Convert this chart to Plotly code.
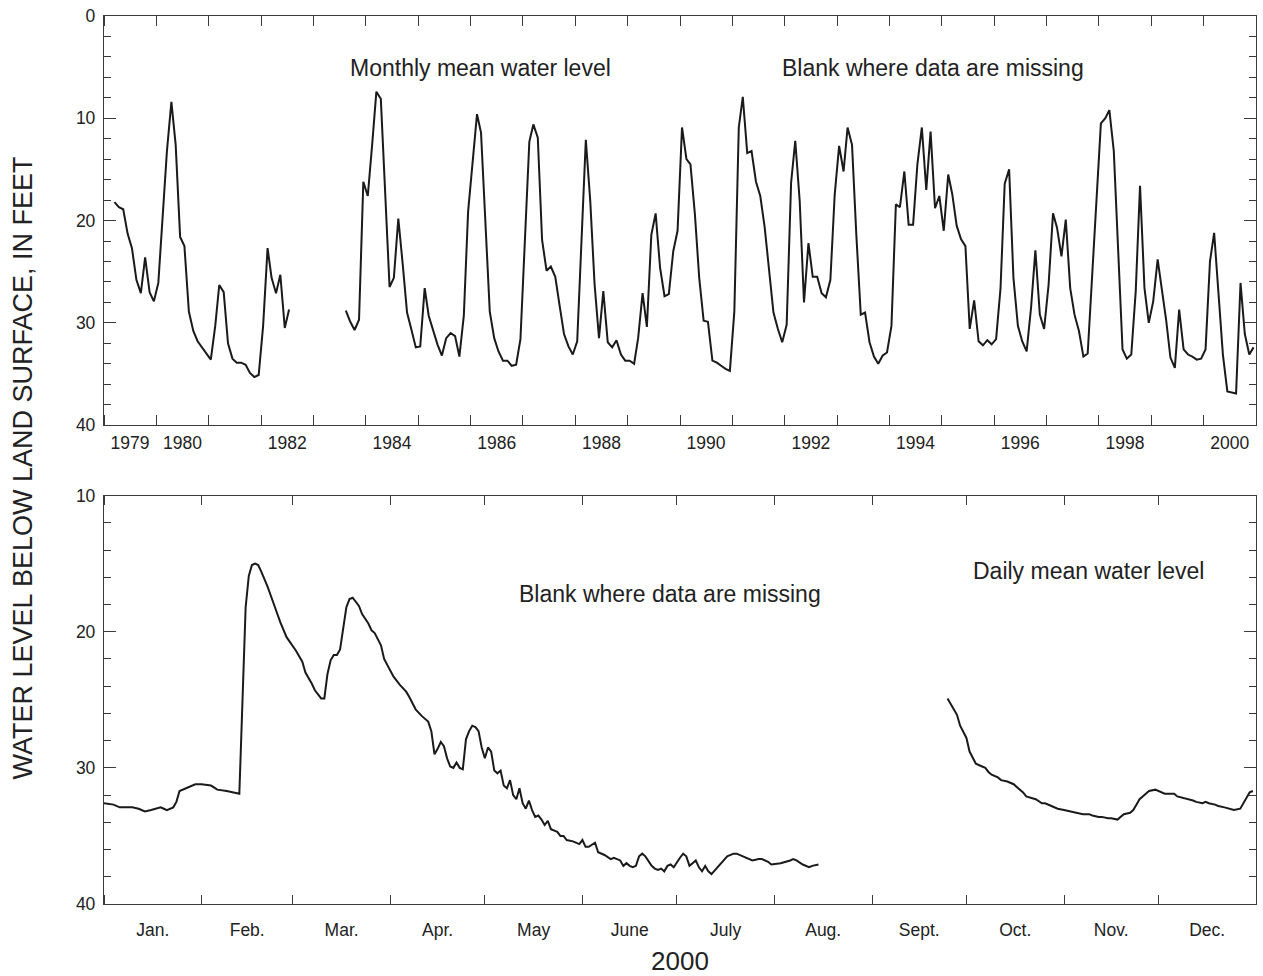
import pandas as pd
import plotly.graph_objects as go

# ---------------- data ----------------
# Monthly mean water level, feet below land surface, March 1979 - December 2000 (None = missing)
monthly_level = [
    18.2, 18.7, 18.9, 21.3, 22.7, 25.8, 27.1, 23.6, 27.0, 27.9,            # 1979 Mar-Dec
    26.1, 19.4, 13.2, 8.4, 12.6, 21.6, 22.5, 28.9, 30.8, 31.8, 32.4, 33.1,  # 1980
    33.6, 30.3, 26.3, 27.0, 32.0, 33.5, 33.9, 33.9, 34.1, 34.9, 35.3, 35.1,  # 1981
    30.3, 22.7, 25.6, 27.1, 25.3, 30.5, 28.7, None, None, None, None, None,  # 1982
    None, None, None, None, None, None, None, 28.8, 29.9, 30.7, 29.7, 16.2,  # 1983
    17.6, 12.5, 7.4, 8.1, 17.3, 26.5, 25.6, 19.8, 24.3, 29.0, 30.7, 32.4,    # 1984
    32.3, 26.6, 29.3, 30.8, 32.1, 33.2, 31.5, 31.0, 31.3, 33.3, 29.3, 19.1,  # 1985
    14.5, 9.6, 11.4, 20.3, 28.9, 31.5, 32.8, 33.7, 33.7, 34.2, 34.1, 31.6,   # 1986
    22.0, 12.3, 10.6, 11.9, 21.9, 24.9, 24.5, 25.5, 28.4, 31.1, 32.3, 33.1,  # 1987
    31.8, 22.0, 12.1, 18.1, 26.2, 31.5, 26.9, 31.9, 32.4, 31.7, 33.1, 33.7,  # 1988
    33.7, 34.0, 31.5, 27.1, 30.4, 21.4, 19.3, 24.6, 27.4, 27.2, 23.0, 21.0,  # 1989
    10.9, 14.0, 14.5, 19.4, 25.6, 29.8, 29.9, 33.7, 33.9, 34.2, 34.5, 34.7,  # 1990
    28.9, 10.9, 7.9, 13.4, 13.2, 16.2, 17.6, 20.7, 24.9, 29.0, 30.6, 31.9,   # 1991
    30.2, 16.3, 12.2, 18.1, 28.0, 22.2, 25.5, 25.5, 27.1, 27.5, 25.8, 17.5,  # 1992
    12.7, 15.2, 10.9, 12.6, 21.4, 29.2, 29.0, 31.9, 33.3, 34.0, 33.2, 32.9,  # 1993
    30.3, 18.4, 18.7, 15.2, 20.4, 20.4, 14.5, 10.9, 17.0, 11.3, 18.8, 17.6,  # 1994
    21.0, 15.5, 17.4, 20.5, 21.8, 22.5, 30.6, 27.8, 31.8, 32.2, 31.7, 32.1,  # 1995
    31.6, 26.6, 16.4, 15.0, 25.6, 30.3, 31.8, 32.8, 28.5, 22.9, 29.2, 30.6,  # 1996
    26.3, 19.3, 20.7, 23.5, 19.9, 26.6, 29.2, 30.8, 33.3, 33.0, 25.4, 18.0,  # 1997
    10.5, 10.0, 9.2, 13.2, 23.3, 32.6, 33.5, 33.1, 26.9, 16.6, 26.6, 30.0,   # 1998
    27.9, 23.8, 26.6, 29.7, 33.4, 34.4, 28.7, 32.6, 33.1, 33.3, 33.6, 33.5,  # 1999
    32.6, 24.0, 21.2, 26.9, 33.1, 36.7, 36.8, 36.9, 26.1, 31.1, 33.1, 32.4,  # 2000
]

# Daily mean water level in 2000: day offset from Jan 1, 2000 and level (None = missing)
daily_day = [
    0, 3, 5, 9, 11, 13, 15, 18, 19, 20, 22, 23, 24, 27, 29, 31, 33, 34, 36, 39,
    43, 45, 46, 47, 48, 49, 50, 52, 54, 56, 58, 61, 63, 64, 66, 67, 69, 70, 71,
    72, 73, 74, 75, 76, 77, 78, 79, 81, 82, 84, 85, 86, 88, 89, 91, 92, 94, 96,
    97, 99, 101, 103, 104, 105, 106, 107, 108, 109, 110, 111, 112, 113, 114,
    115, 116, 117, 118, 119, 120, 121, 122, 123, 124, 125, 126, 127, 128, 129,
    130, 131, 132, 133, 134, 135, 136, 137, 138, 139, 140, 141, 142, 144, 145,
    146, 147, 149, 151, 152, 153, 154, 156, 157, 159, 161, 162, 164, 165, 166,
    167, 168, 169, 170, 171, 172, 174, 175, 176, 177, 178, 179, 180, 181, 183,
    184, 185, 186, 187, 188, 189, 190, 191, 192, 193, 195, 197, 198, 200, 201,
    203, 205, 206, 208, 209, 211, 212, 215, 217, 218, 219, 220, 222, 224, 225,
    227, 228,
    268, 269, 271, 272, 274, 275, 276, 277, 279, 280, 281, 282, 284, 285, 287,
    289, 290, 292, 293, 295, 296, 298, 299, 301, 303, 305, 307, 308, 310, 311,
    313, 314, 316, 317, 319, 320, 322, 323, 324, 326, 327, 328, 329, 331, 332,
    334, 335, 337, 338, 340, 341, 343, 344, 346, 347, 349, 350, 351, 353, 354,
    356, 358, 359, 361, 362, 363, 364, 365,
]
daily_level = [
    32.6, 32.7, 32.9, 32.9, 33.0, 33.2, 33.1, 32.9, 33.0, 33.1, 32.9, 32.5, 31.7,
    31.4, 31.2, 31.2, 31.3, 31.3, 31.6, 31.7,
    31.9, 18.2, 15.9, 15.1, 15.0, 15.1, 15.6, 16.7, 18.0, 19.3, 20.4, 21.4, 22.2,
    23.0, 23.8, 24.3, 24.9, 24.9, 23.1,
    22.1, 21.7, 21.7, 21.3, 19.7, 18.2, 17.6, 17.5, 18.1, 18.7, 19.4, 19.9, 20.1,
    21.0, 22.0, 22.9, 23.3, 23.9, 24.4,
    24.8, 25.7, 26.2, 26.6, 27.3, 29.0, 28.6, 28.1, 28.4, 29.3, 29.9, 30.0, 29.6,
    30.0, 30.1,
    27.9, 27.3, 26.9, 27.0, 27.3, 28.5, 29.3, 28.5, 28.8, 30.2, 30.4, 30.2, 31.3,
    31.5, 30.9,
    32.0, 32.3, 31.5, 32.6, 33.0, 32.4, 33.1, 33.6, 33.5, 33.8, 34.2, 33.9, 34.5,
    34.7, 35.0,
    35.0, 35.3, 35.4, 35.6, 35.3, 35.8, 35.8, 35.5, 36.2, 36.4, 36.7, 36.6, 36.8,
    37.2, 37.0,
    37.2, 37.3, 37.2, 36.5, 36.3, 36.5, 37.2, 37.4, 37.5, 37.4, 37.6, 37.2, 37.1,
    37.3, 36.6,
    36.3, 36.5, 37.2, 37.0, 36.8, 37.3, 37.6, 37.2, 37.6, 37.8, 37.3, 36.8, 36.5,
    36.3, 36.3,
    36.5, 36.7, 36.8, 36.7, 36.7, 36.9, 37.1, 37.0, 36.9, 36.8, 36.7, 36.8, 37.1,
    37.3, 37.2,
    37.1, None,
    24.9, 25.3, 26.1, 26.9, 27.8, 28.8, 29.3, 29.7, 29.9, 30.0, 30.3, 30.5, 30.7,
    30.9, 31.0,
    31.2, 31.4, 31.8, 32.1, 32.2, 32.3, 32.6, 32.6, 32.8, 33.0, 33.1, 33.2, 33.2,
    33.3, 33.4,
    33.4, 33.5, 33.6, 33.6, 33.7, 33.7, 33.8, 33.6, 33.4, 33.3, 33.1, 32.7, 32.3,
    31.9, 31.7,
    31.6, 31.7, 31.9, 31.9, 31.9, 32.1, 32.2, 32.3, 32.4, 32.5, 32.6, 32.5, 32.6,
    32.7, 32.8,
    32.9, 33.0, 33.1, 33.0, 32.6, 32.1, 31.8, 31.7,
]

year_labels = ["1979", "1980", "1982", "1984", "1986", "1988", "1990",
               "1992", "1994", "1996", "1998", "2000"]
month_labels = ["Jan.", "Feb.", "Mar.", "Apr.", "May", "June", "July",
                "Aug.", "Sept.", "Oct.", "Nov.", "Dec."]
y_ticks_top = [0, 10, 20, 30, 40]
y_ticks_bottom = [10, 20, 30, 40]

# ---------------- build ----------------
month_dates = pd.date_range("1979-03-01", periods=len(monthly_level), freq="MS") + pd.Timedelta(days=14)
daily_dates = pd.Timestamp("2000-01-01") + pd.to_timedelta(daily_day, unit="D")

FONT = "Liberation Sans, Arial, Helvetica, sans-serif"
INK = "#222222"
AX = "#3a3a3a"

fig = go.Figure()
fig.add_trace(go.Scatter(x=month_dates, y=monthly_level, mode="lines",
                         line=dict(color="#1a1a1a", width=2), connectgaps=False,
                         xaxis="x", yaxis="y", showlegend=False, hoverinfo="skip"))
fig.add_trace(go.Scatter(x=daily_dates, y=daily_level, mode="lines",
                         line=dict(color="#1a1a1a", width=2), connectgaps=False,
                         xaxis="x2", yaxis="y2", showlegend=False, hoverinfo="skip"))

common = dict(showline=True, linecolor=AX, linewidth=1.3, mirror="ticks",
              showgrid=False, zeroline=False,
              tickfont=dict(family=FONT, size=17.5, color=INK))

year_label_pos = [f"{y}-07-02" for y in year_labels]
year_bounds = [f"{y}-01-01" for y in range(1979, 2002)]
month_mid = [pd.Timestamp(2000, m, 1) + (pd.Timestamp(2000 + m // 12, m % 12 + 1, 1) - pd.Timestamp(2000, m, 1)) / 2
             for m in range(1, 13)]
month_bounds = [pd.Timestamp(2000, m, 1) for m in range(1, 13)] + [pd.Timestamp(2001, 1, 1)]

fig.update_layout(
    width=1263, height=976,
    margin=dict(l=104, r=6, t=14, b=72),
    paper_bgcolor="white", plot_bgcolor="white",
    font=dict(family=FONT, color=INK),
    xaxis=dict(common, type="date", range=["1979-01-01", "2001-01-01"], anchor="y",
               tickmode="array", tickvals=year_label_pos, ticktext=year_labels,
               ticks="", ticklabelstandoff=2,
               minor=dict(tickmode="array", tickvals=year_bounds, ticks="inside",
                          ticklen=10, tickwidth=1.3, tickcolor=AX, showgrid=False)),
    yaxis=dict(common, domain=[0.5393, 1.0], range=[40, 0], anchor="x",
               tickmode="array", tickvals=y_ticks_top, ticks="inside", ticklen=12,
               tickwidth=1.3, tickcolor=AX, ticklabelstandoff=4,
               minor=dict(dtick=2, tick0=0, ticks="inside", ticklen=6.5,
                          tickwidth=1.3, tickcolor=AX, showgrid=False)),
    xaxis2=dict(common, type="date", range=["2000-01-01", "2001-01-01"], anchor="y2",
                tickmode="array", tickvals=month_mid, ticktext=month_labels,
                ticks="", ticklabelstandoff=10,
                minor=dict(tickmode="array", tickvals=month_bounds, ticks="inside",
                           ticklen=9, tickwidth=1.3, tickcolor=AX, showgrid=False)),
    yaxis2=dict(common, domain=[0.0, 0.4599], range=[40, 10], anchor="x2",
                tickmode="array", tickvals=y_ticks_bottom, ticks="inside", ticklen=12,
                tickwidth=1.3, tickcolor=AX, ticklabelstandoff=4,
                minor=dict(dtick=2, tick0=10, ticks="inside", ticklen=6.5,
                           tickwidth=1.3, tickcolor=AX, showgrid=False)),
)

ann_font = dict(family=FONT, size=23, color=INK)
def note(text, x, y, **kw):
    fig.add_annotation(text=text, xref="paper", yref="paper", x=x, y=y,
                       xanchor="center", yanchor="middle", showarrow=False,
                       font=kw.pop("font", ann_font), **kw)

note("Monthly mean water level", 0.327, 0.9416)
note("Blank where data are missing", 0.7199, 0.9416)
note("Blank where data are missing", 0.4909, 0.3494)
note("Daily mean water level", 0.8547, 0.3753)
note("2000", 0.500, -0.064, font=dict(family=FONT, size=26, color=INK))
note("WATER LEVEL BELOW LAND SURFACE, IN FEET", -0.0703, 0.4904, textangle=-90,
     font=dict(family=FONT, size=27, color=INK))

fig.write_html("out.html")
